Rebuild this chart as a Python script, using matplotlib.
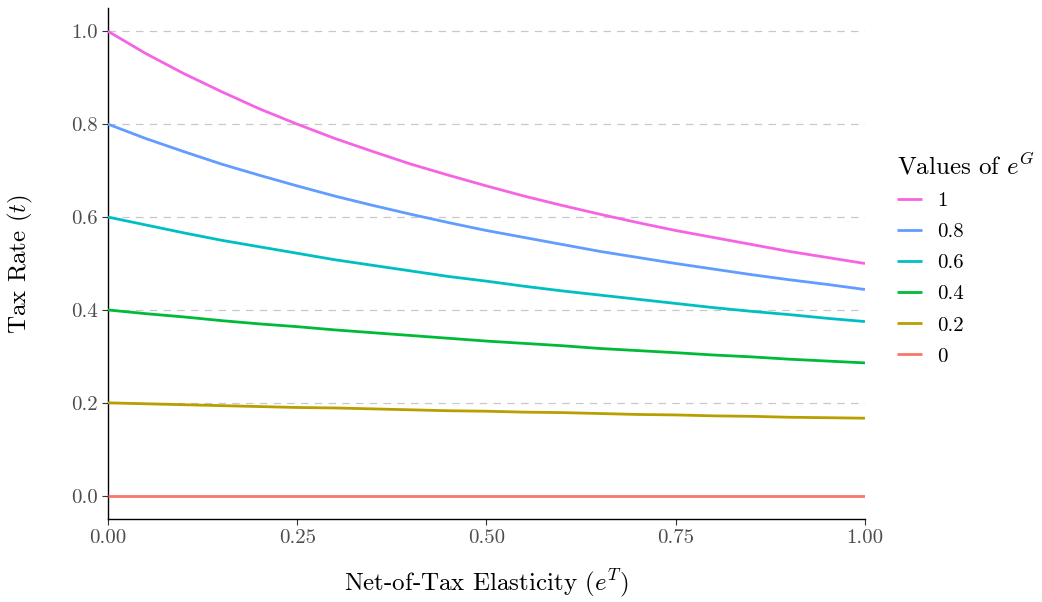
import matplotlib.pyplot as plt
import numpy as np

plt.rcParams['font.family'] = ['cmr10', 'DejaVu Serif']
plt.rcParams['mathtext.fontset'] = 'cm'
plt.rcParams['axes.formatter.use_mathtext'] = True

# net-of-tax elasticity (x) and tax rate for each e^G
e_t = [0.0, 0.05, 0.1, 0.15, 0.2, 0.25, 0.3, 0.35, 0.4, 0.45, 0.5,
       0.55, 0.6, 0.65, 0.7, 0.75, 0.8, 0.85, 0.9, 0.95, 1.0]
rate_1 = [1.0, 0.952, 0.909, 0.870, 0.833, 0.800, 0.769, 0.741, 0.714, 0.690, 0.667,
          0.645, 0.625, 0.606, 0.588, 0.571, 0.556, 0.541, 0.526, 0.513, 0.5]
rate_08 = [0.8, 0.769, 0.741, 0.714, 0.690, 0.667, 0.645, 0.625, 0.606, 0.588, 0.571,
           0.556, 0.541, 0.526, 0.513, 0.500, 0.488, 0.476, 0.465, 0.455, 0.444]
rate_06 = [0.6, 0.583, 0.566, 0.550, 0.536, 0.522, 0.508, 0.496, 0.484, 0.472, 0.462,
           0.451, 0.441, 0.432, 0.423, 0.414, 0.405, 0.397, 0.390, 0.382, 0.375]
rate_04 = [0.4, 0.392, 0.385, 0.377, 0.370, 0.364, 0.357, 0.351, 0.345, 0.339, 0.333,
           0.328, 0.323, 0.317, 0.3125, 0.308, 0.303, 0.299, 0.294, 0.290, 0.286]
rate_02 = [0.2, 0.198, 0.196, 0.194, 0.192, 0.190, 0.189, 0.187, 0.185, 0.183, 0.182,
           0.180, 0.179, 0.177, 0.175, 0.174, 0.172, 0.171, 0.169, 0.168, 0.167]
rate_0 = [0.0] * 21

labels = ['1', '0.8', '0.6', '0.4', '0.2', '0']
series = [rate_1, rate_08, rate_06, rate_04, rate_02, rate_0]
colors = ['#F564E3', '#619CFF', '#00BFC4', '#00BA38', '#B79F00', '#F8766D']

x_ticks = [0.0, 0.25, 0.5, 0.75, 1.0]
x_labels = ['0.00', '0.25', '0.50', '0.75', '1.00']
y_ticks = [0.0, 0.2, 0.4, 0.6, 0.8, 1.0]
y_labels = ['0.0', '0.2', '0.4', '0.6', '0.8', '1.0']

fig = plt.figure(figsize=(10.42, 6.02), dpi=100)
ax = fig.add_axes([0.1036, 0.1379, 0.7265, 0.8488])

for yv in y_ticks[1:]:
    ax.plot([0, 1], [yv, yv], color='#C8C8C8', lw=0.9, dashes=(6, 5), zorder=1)

for lab, ys, c in zip(labels, series, colors):
    ax.plot(np.array(e_t), ys, color=c, lw=2.0, label=lab, zorder=3,
            solid_capstyle='butt', solid_joinstyle='round')

ax.set_xlim(0, 1)
ax.set_ylim(-0.05, 1.05)
ax.set_xticks(x_ticks, x_labels)
ax.set_yticks(y_ticks, y_labels)
ax.tick_params(labelsize=15, labelcolor='#4D4D4D', length=4, width=0.8, color='#333333')
for s in ['top', 'right']:
    ax.spines[s].set_visible(False)
for s in ['left', 'bottom']:
    ax.spines[s].set_linewidth(1.0)

ax.set_xlabel(r'Net-of-Tax Elasticity ($e^T$)', fontsize=18, labelpad=14)
ax.set_ylabel(r'Tax Rate ($t$)', fontsize=18, labelpad=26)

leg = ax.legend(loc='upper left', bbox_to_anchor=(1.018, 0.753), frameon=False,
                fontsize=15, title=r'Values of $e^G$', title_fontsize=18,
                handlelength=1.2, labelspacing=0.6, handletextpad=0.7)
leg._legend_box.align = 'left'

fig.savefig('out.png', dpi=100)
